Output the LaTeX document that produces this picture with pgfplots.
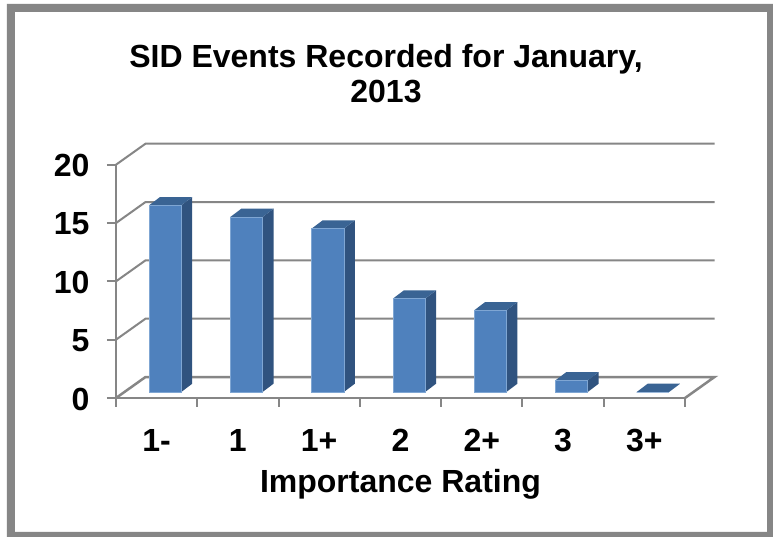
\documentclass[border=0pt]{standalone}
\usepackage{fontspec}
\setmainfont{Liberation Sans}
\usepackage{pgfplots}
\pgfplotsset{compat=1.18}
\definecolor{framegray}{HTML}{868686}
\definecolor{barfront}{HTML}{4F81BD}
\definecolor{barside}{HTML}{30537F}
\definecolor{bartop}{HTML}{3A6494}
\definecolor{baredge}{HTML}{7FA6D3}

% one 3D-looking bar: index, value (all in data units)
\newcommand{\threedbar}[2]{%
  \pgfmathsetmacro\xa{#1+0.406}\pgfmathsetmacro\xb{#1+0.803}\pgfmathsetmacro\xc{#1+0.938}%
  \pgfmathsetmacro\ya{0.514}\pgfmathsetmacro\yb{#2+0.514}%
  \pgfmathsetmacro\yc{1.225}\pgfmathsetmacro\yd{#2+1.225}%
  \pgfmathsetmacro\xe{\xa+0.135}%
  \edef\temp{%
    \noexpand\addplot[fill=barside,draw=none] coordinates {(\xb,\ya) (\xc,\yc) (\xc,\yd) (\xb,\yb)} -- cycle;
    \noexpand\addplot[fill=bartop,draw=none] coordinates {(\xa,\yb) (\xb,\yb) (\xc,\yd) (\xe,\yd)} -- cycle;
    \noexpand\addplot[fill=barfront,draw=baredge,line width=0.5pt] coordinates {(\xa,\ya) (\xb,\ya) (\xb,\yb) (\xa,\yb)} -- cycle;
  }\temp}

\begin{document}
\begin{tikzpicture}
\path[use as bounding box,fill=white] (-116pt,-139pt) rectangle (657pt,398pt);
\fill[framegray,even odd rule] (-109pt,-139pt) rectangle (657pt,394pt)
  (-101pt,-134pt) rectangle (651pt,386pt);
\begin{axis}[
  scale only axis,
  width=569pt, height=233.3pt,
  xmin=0, xmax=7, ymin=0, ymax=20,
  clip=false,
  axis x line*=bottom, axis y line*=left,
  axis line style={draw=framegray,line width=2pt,-},
  tick style={draw=framegray,line width=2pt},
  tick align=outside,
  major tick length=9pt,
  xtick={0,...,7},
  xticklabels={1-,1,1+,2,2+,3,3+,{}},
  ytick={0,5,10,15,20},
  /pgf/number format/assume math mode=true,
  tick label style={font=\fontsize{32}{36}\selectfont\bfseries},
  xticklabel style={xshift=40.6pt,yshift=-18.5pt},
  yticklabel style={xshift=-14pt,yshift=-1pt},
  xlabel={Importance Rating},
  xlabel style={font=\fontsize{32}{36}\selectfont\bfseries,yshift=-11pt},
  title={SID Events Recorded for January,\\2013},
  title style={font=\fontsize{32}{35}\selectfont\bfseries,align=center,yshift=52pt,xshift=-14.5pt},
]
% back wall gridlines and floor
\addplot[framegray,line width=2pt] coordinates {(0,20) (0.363,21.8) (7.363,21.8)};
\addplot[framegray,line width=2pt] coordinates {(0,15) (0.363,16.8) (7.363,16.8)};
\addplot[framegray,line width=2pt] coordinates {(0,10) (0.363,11.8) (7.363,11.8)};
\addplot[framegray,line width=2pt] coordinates {(0,5) (0.363,6.8) (7.363,6.8)};
\addplot[framegray,line width=2.5pt] coordinates {(0,0) (0.363,1.8) (7.363,1.8) (7,0)};
% bars
\threedbar{0}{16}
\threedbar{1}{15}
\threedbar{2}{14}
\threedbar{3}{8}
\threedbar{4}{7}
\threedbar{5}{1}
\threedbar{6}{0}
\end{axis}
\end{tikzpicture}
\end{document}
